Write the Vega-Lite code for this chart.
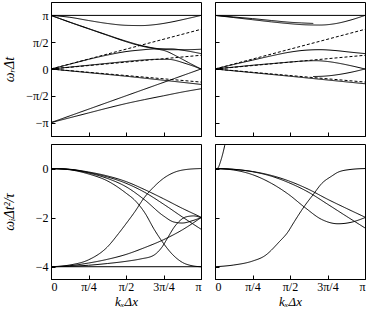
{
"$schema": "https://vega.github.io/schema/vega-lite/v6.json",
"background": "white",
"padding": {"left": 1, "top": 1, "right": 4, "bottom": 0},
"config": {
  "view": {"stroke": "black", "strokeWidth": 1},
  "axis": {"labelFont": "Liberation Serif", "titleFont": "Liberation Serif", "labelFontSize": 12, "titleFontSize": 14, "titleFontWeight": "normal", "tickColor": "black", "domainColor": "black", "labelColor": "black", "titleColor": "black", "grid": false, "tickSize": -4, "labelPadding": 7}
},
"data": {"values": [
{"p":"tl","c":"A","d":"s","k":0,"w":1},{"p":"tl","c":"A","d":"s","k":1,"w":1},
{"p":"tl","c":"B","d":"s","k":0,"w":1},{"p":"tl","c":"B","d":"s","k":0.125,"w":0.965},{"p":"tl","c":"B","d":"s","k":0.25,"w":0.905},{"p":"tl","c":"B","d":"s","k":0.375,"w":0.85},{"p":"tl","c":"B","d":"s","k":0.5,"w":0.815},{"p":"tl","c":"B","d":"s","k":0.6,"w":0.81},{"p":"tl","c":"B","d":"s","k":0.7,"w":0.83},{"p":"tl","c":"B","d":"s","k":0.8,"w":0.875},{"p":"tl","c":"B","d":"s","k":0.9,"w":0.935},{"p":"tl","c":"B","d":"s","k":1,"w":1},
{"p":"tl","c":"C","d":"s","k":0,"w":1},{"p":"tl","c":"C","d":"s","k":0.125,"w":0.875},{"p":"tl","c":"C","d":"s","k":0.25,"w":0.755},{"p":"tl","c":"C","d":"s","k":0.375,"w":0.635},{"p":"tl","c":"C","d":"s","k":0.5,"w":0.52},{"p":"tl","c":"C","d":"s","k":0.6,"w":0.44},{"p":"tl","c":"C","d":"s","k":0.7,"w":0.385},{"p":"tl","c":"C","d":"s","k":0.8,"w":0.36},{"p":"tl","c":"C","d":"s","k":0.9,"w":0.36},{"p":"tl","c":"C","d":"s","k":1,"w":0.369},
{"p":"tl","c":"C2","d":"s","k":0,"w":1},{"p":"tl","c":"C2","d":"s","k":0.125,"w":0.872},{"p":"tl","c":"C2","d":"s","k":0.25,"w":0.75},{"p":"tl","c":"C2","d":"s","k":0.375,"w":0.63},{"p":"tl","c":"C2","d":"s","k":0.5,"w":0.51},{"p":"tl","c":"C2","d":"s","k":0.6,"w":0.43},{"p":"tl","c":"C2","d":"s","k":0.7,"w":0.375},{"p":"tl","c":"C2","d":"s","k":0.76,"w":0.34},{"p":"tl","c":"C2","d":"s","k":0.85,"w":0.22},{"p":"tl","c":"C2","d":"s","k":0.93,"w":0.1},{"p":"tl","c":"C2","d":"s","k":1,"w":0},
{"p":"tl","c":"D1","d":"d","k":0,"w":0},{"p":"tl","c":"D1","d":"d","k":1,"w":0.74},
{"p":"tl","c":"D2","d":"s","k":0,"w":0},{"p":"tl","c":"D2","d":"s","k":0.125,"w":0.09},{"p":"tl","c":"D2","d":"s","k":0.25,"w":0.18},{"p":"tl","c":"D2","d":"s","k":0.375,"w":0.26},{"p":"tl","c":"D2","d":"s","k":0.5,"w":0.325},{"p":"tl","c":"D2","d":"s","k":0.6,"w":0.355},{"p":"tl","c":"D2","d":"s","k":0.7,"w":0.375},{"p":"tl","c":"D2","d":"s","k":0.8,"w":0.375},{"p":"tl","c":"D2","d":"s","k":0.9,"w":0.34},{"p":"tl","c":"D2","d":"s","k":1,"w":0.2875},
{"p":"tl","c":"D3","d":"s","k":0,"w":0},{"p":"tl","c":"D3","d":"s","k":0.125,"w":0.035},{"p":"tl","c":"D3","d":"s","k":0.25,"w":0.07},{"p":"tl","c":"D3","d":"s","k":0.375,"w":0.105},{"p":"tl","c":"D3","d":"s","k":0.5,"w":0.14},{"p":"tl","c":"D3","d":"s","k":0.6,"w":0.165},{"p":"tl","c":"D3","d":"s","k":0.7,"w":0.18},{"p":"tl","c":"D3","d":"s","k":0.78,"w":0.18},{"p":"tl","c":"D3","d":"s","k":0.9,"w":0.1},{"p":"tl","c":"D3","d":"s","k":1,"w":0},
{"p":"tl","c":"D4","d":"d","k":0,"w":0},{"p":"tl","c":"D4","d":"d","k":1,"w":0.256},
{"p":"tl","c":"D5","d":"s","k":0,"w":0},{"p":"tl","c":"D5","d":"s","k":0.25,"w":-0.068},{"p":"tl","c":"D5","d":"s","k":0.5,"w":-0.135},{"p":"tl","c":"D5","d":"s","k":0.75,"w":-0.21},{"p":"tl","c":"D5","d":"s","k":1,"w":-0.2875},
{"p":"tl","c":"D6","d":"d","k":0,"w":0},{"p":"tl","c":"D6","d":"d","k":1,"w":-0.244},
{"p":"tl","c":"E1","d":"s","k":0,"w":-1},{"p":"tl","c":"E1","d":"s","k":1,"w":0},
{"p":"tl","c":"E2","d":"s","k":0,"w":-1},{"p":"tl","c":"E2","d":"s","k":0.125,"w":-0.91},{"p":"tl","c":"E2","d":"s","k":0.25,"w":-0.82},{"p":"tl","c":"E2","d":"s","k":0.375,"w":-0.73},{"p":"tl","c":"E2","d":"s","k":0.5,"w":-0.645},{"p":"tl","c":"E2","d":"s","k":0.625,"w":-0.57},{"p":"tl","c":"E2","d":"s","k":0.75,"w":-0.5},{"p":"tl","c":"E2","d":"s","k":0.875,"w":-0.43},{"p":"tl","c":"E2","d":"s","k":1,"w":-0.369},

{"p":"tr","c":"A","d":"s","k":0,"w":1},{"p":"tr","c":"A","d":"s","k":1,"w":1},
{"p":"tr","c":"B","d":"s","k":0,"w":1},{"p":"tr","c":"B","d":"s","k":0.125,"w":0.97},{"p":"tr","c":"B","d":"s","k":0.25,"w":0.94},{"p":"tr","c":"B","d":"s","k":0.375,"w":0.905},{"p":"tr","c":"B","d":"s","k":0.5,"w":0.872},{"p":"tr","c":"B","d":"s","k":0.575,"w":0.86},{"p":"tr","c":"B","d":"s","k":0.655,"w":0.85},
{"p":"tr","c":"B2","d":"s","k":0,"w":1},{"p":"tr","c":"B2","d":"s","k":0.125,"w":0.96},{"p":"tr","c":"B2","d":"s","k":0.25,"w":0.92},{"p":"tr","c":"B2","d":"s","k":0.375,"w":0.88},{"p":"tr","c":"B2","d":"s","k":0.5,"w":0.845},{"p":"tr","c":"B2","d":"s","k":0.6,"w":0.825},{"p":"tr","c":"B2","d":"s","k":0.7,"w":0.82},{"p":"tr","c":"B2","d":"s","k":0.8,"w":0.845},{"p":"tr","c":"B2","d":"s","k":0.9,"w":0.91},{"p":"tr","c":"B2","d":"s","k":1,"w":1},
{"p":"tr","c":"D1","d":"d","k":0,"w":0},{"p":"tr","c":"D1","d":"d","k":1,"w":0.74},
{"p":"tr","c":"D2","d":"s","k":0,"w":0},{"p":"tr","c":"D2","d":"s","k":0.125,"w":0.085},{"p":"tr","c":"D2","d":"s","k":0.25,"w":0.165},{"p":"tr","c":"D2","d":"s","k":0.375,"w":0.245},{"p":"tr","c":"D2","d":"s","k":0.5,"w":0.315},{"p":"tr","c":"D2","d":"s","k":0.6,"w":0.35},{"p":"tr","c":"D2","d":"s","k":0.7,"w":0.36},{"p":"tr","c":"D2","d":"s","k":0.8,"w":0.345},{"p":"tr","c":"D2","d":"s","k":0.9,"w":0.315},{"p":"tr","c":"D2","d":"s","k":1,"w":0.2875},
{"p":"tr","c":"D3","d":"s","k":0,"w":0},{"p":"tr","c":"D3","d":"s","k":0.125,"w":0.035},{"p":"tr","c":"D3","d":"s","k":0.25,"w":0.07},{"p":"tr","c":"D3","d":"s","k":0.375,"w":0.1},{"p":"tr","c":"D3","d":"s","k":0.5,"w":0.13},{"p":"tr","c":"D3","d":"s","k":0.6,"w":0.15},{"p":"tr","c":"D3","d":"s","k":0.67,"w":0.155},{"p":"tr","c":"D3","d":"s","k":0.75,"w":0.14},{"p":"tr","c":"D3","d":"s","k":0.82,"w":0.11},{"p":"tr","c":"D3","d":"s","k":0.9,"w":0.065},{"p":"tr","c":"D3","d":"s","k":1,"w":0},
{"p":"tr","c":"D4","d":"d","k":0,"w":0},{"p":"tr","c":"D4","d":"d","k":1,"w":0.256},
{"p":"tr","c":"D5","d":"s","k":0,"w":0},{"p":"tr","c":"D5","d":"s","k":0.25,"w":-0.068},{"p":"tr","c":"D5","d":"s","k":0.5,"w":-0.135},{"p":"tr","c":"D5","d":"s","k":0.75,"w":-0.205},{"p":"tr","c":"D5","d":"s","k":1,"w":-0.275},
{"p":"tr","c":"D6","d":"d","k":0,"w":0},{"p":"tr","c":"D6","d":"d","k":1,"w":-0.244},
{"p":"tr","c":"F","d":"s","k":0.655,"w":-0.14},{"p":"tr","c":"F","d":"s","k":0.72,"w":-0.135},{"p":"tr","c":"F","d":"s","k":0.82,"w":-0.105},{"p":"tr","c":"F","d":"s","k":0.9,"w":-0.065},{"p":"tr","c":"F","d":"s","k":1,"w":0},

{"p":"bl","c":"a","d":"s","k":0,"w":0},{"p":"bl","c":"a","d":"s","k":0.125,"w":-0.03},{"p":"bl","c":"a","d":"s","k":0.25,"w":-0.14},{"p":"bl","c":"a","d":"s","k":0.375,"w":-0.3},{"p":"bl","c":"a","d":"s","k":0.5,"w":-0.53},{"p":"bl","c":"a","d":"s","k":0.625,"w":-0.86},{"p":"bl","c":"a","d":"s","k":0.75,"w":-1.23},{"p":"bl","c":"a","d":"s","k":0.875,"w":-1.62},{"p":"bl","c":"a","d":"s","k":1,"w":-1.98},
{"p":"bl","c":"b","d":"s","k":0,"w":0},{"p":"bl","c":"b","d":"s","k":0.125,"w":-0.035},{"p":"bl","c":"b","d":"s","k":0.25,"w":-0.16},{"p":"bl","c":"b","d":"s","k":0.375,"w":-0.34},{"p":"bl","c":"b","d":"s","k":0.5,"w":-0.6},{"p":"bl","c":"b","d":"s","k":0.625,"w":-0.97},{"p":"bl","c":"b","d":"s","k":0.75,"w":-1.45},{"p":"bl","c":"b","d":"s","k":0.875,"w":-1.97},{"p":"bl","c":"b","d":"s","k":1,"w":-2.47},
{"p":"bl","c":"c","d":"s","k":0,"w":0},{"p":"bl","c":"c","d":"s","k":0.125,"w":-0.04},{"p":"bl","c":"c","d":"s","k":0.25,"w":-0.18},{"p":"bl","c":"c","d":"s","k":0.375,"w":-0.4},{"p":"bl","c":"c","d":"s","k":0.5,"w":-0.74},{"p":"bl","c":"c","d":"s","k":0.625,"w":-1.28},{"p":"bl","c":"c","d":"s","k":0.75,"w":-1.93},{"p":"bl","c":"c","d":"s","k":0.82,"w":-2.18},{"p":"bl","c":"c","d":"s","k":0.875,"w":-2.22},{"p":"bl","c":"c","d":"s","k":0.94,"w":-2.13},{"p":"bl","c":"c","d":"s","k":1,"w":-2.0},
{"p":"bl","c":"d","d":"s","k":0,"w":0},{"p":"bl","c":"d","d":"s","k":0.125,"w":-0.05},{"p":"bl","c":"d","d":"s","k":0.25,"w":-0.22},{"p":"bl","c":"d","d":"s","k":0.375,"w":-0.5},{"p":"bl","c":"d","d":"s","k":0.5,"w":-1.0},{"p":"bl","c":"d","d":"s","k":0.56,"w":-1.3},{"p":"bl","c":"d","d":"s","k":0.625,"w":-1.8},{"p":"bl","c":"d","d":"s","k":0.69,"w":-2.5},{"p":"bl","c":"d","d":"s","k":0.75,"w":-3.05},{"p":"bl","c":"d","d":"s","k":0.81,"w":-3.5},{"p":"bl","c":"d","d":"s","k":0.875,"w":-3.82},{"p":"bl","c":"d","d":"s","k":0.94,"w":-3.96},{"p":"bl","c":"d","d":"s","k":1,"w":-4},
{"p":"bl","c":"e","d":"s","k":0,"w":-4},{"p":"bl","c":"e","d":"s","k":0.125,"w":-3.93},{"p":"bl","c":"e","d":"s","k":0.25,"w":-3.72},{"p":"bl","c":"e","d":"s","k":0.375,"w":-3.2},{"p":"bl","c":"e","d":"s","k":0.45,"w":-2.65},{"p":"bl","c":"e","d":"s","k":0.5,"w":-2.25},{"p":"bl","c":"e","d":"s","k":0.56,"w":-1.75},{"p":"bl","c":"e","d":"s","k":0.62,"w":-1.2},{"p":"bl","c":"e","d":"s","k":0.69,"w":-0.72},{"p":"bl","c":"e","d":"s","k":0.75,"w":-0.4},{"p":"bl","c":"e","d":"s","k":0.82,"w":-0.16},{"p":"bl","c":"e","d":"s","k":0.9,"w":-0.04},{"p":"bl","c":"e","d":"s","k":1,"w":0},
{"p":"bl","c":"f","d":"s","k":0,"w":-4},{"p":"bl","c":"f","d":"s","k":0.125,"w":-3.96},{"p":"bl","c":"f","d":"s","k":0.25,"w":-3.85},{"p":"bl","c":"f","d":"s","k":0.375,"w":-3.7},{"p":"bl","c":"f","d":"s","k":0.5,"w":-3.5},{"p":"bl","c":"f","d":"s","k":0.625,"w":-3.22},{"p":"bl","c":"f","d":"s","k":0.75,"w":-2.9},{"p":"bl","c":"f","d":"s","k":0.875,"w":-2.5},{"p":"bl","c":"f","d":"s","k":1,"w":-2.0},
{"p":"bl","c":"g","d":"s","k":0,"w":-4},{"p":"bl","c":"g","d":"s","k":0.125,"w":-3.98},{"p":"bl","c":"g","d":"s","k":0.25,"w":-3.94},{"p":"bl","c":"g","d":"s","k":0.375,"w":-3.87},{"p":"bl","c":"g","d":"s","k":0.5,"w":-3.78},{"p":"bl","c":"g","d":"s","k":0.6,"w":-3.68},{"p":"bl","c":"g","d":"s","k":0.68,"w":-3.55},{"p":"bl","c":"g","d":"s","k":0.74,"w":-3.2},{"p":"bl","c":"g","d":"s","k":0.78,"w":-2.8},{"p":"bl","c":"g","d":"s","k":0.82,"w":-2.4},{"p":"bl","c":"g","d":"s","k":0.86,"w":-2.12},{"p":"bl","c":"g","d":"s","k":0.9,"w":-1.97},{"p":"bl","c":"g","d":"s","k":0.95,"w":-1.93},{"p":"bl","c":"g","d":"s","k":1,"w":-2.0},
{"p":"bl","c":"h","d":"s","k":0,"w":-4},{"p":"bl","c":"h","d":"s","k":1,"w":-4},

{"p":"br","c":"G","d":"s","k":0.015,"w":0},{"p":"br","c":"G","d":"s","k":0.025,"w":0.08},{"p":"br","c":"G","d":"s","k":0.035,"w":0.25},{"p":"br","c":"G","d":"s","k":0.045,"w":0.45},{"p":"br","c":"G","d":"s","k":0.055,"w":0.68},{"p":"br","c":"G","d":"s","k":0.065,"w":0.95},{"p":"br","c":"G","d":"s","k":0.07,"w":1.1},
{"p":"br","c":"a","d":"s","k":0,"w":0},{"p":"br","c":"a","d":"s","k":0.125,"w":-0.03},{"p":"br","c":"a","d":"s","k":0.25,"w":-0.12},{"p":"br","c":"a","d":"s","k":0.375,"w":-0.28},{"p":"br","c":"a","d":"s","k":0.49,"w":-0.5},{"p":"br","c":"a","d":"s","k":0.625,"w":-0.85},{"p":"br","c":"a","d":"s","k":0.75,"w":-1.25},{"p":"br","c":"a","d":"s","k":0.875,"w":-1.62},{"p":"br","c":"a","d":"s","k":1,"w":-1.98},
{"p":"br","c":"b","d":"s","k":0,"w":0},{"p":"br","c":"b","d":"s","k":0.125,"w":-0.035},{"p":"br","c":"b","d":"s","k":0.25,"w":-0.13},{"p":"br","c":"b","d":"s","k":0.375,"w":-0.31},{"p":"br","c":"b","d":"s","k":0.49,"w":-0.57},{"p":"br","c":"b","d":"s","k":0.625,"w":-0.97},{"p":"br","c":"b","d":"s","k":0.75,"w":-1.45},{"p":"br","c":"b","d":"s","k":0.875,"w":-1.94},{"p":"br","c":"b","d":"s","k":1,"w":-2.42},
{"p":"br","c":"c","d":"s","k":0,"w":0},{"p":"br","c":"c","d":"s","k":0.125,"w":-0.06},{"p":"br","c":"c","d":"s","k":0.25,"w":-0.25},{"p":"br","c":"c","d":"s","k":0.375,"w":-0.6},{"p":"br","c":"c","d":"s","k":0.49,"w":-1.05},{"p":"br","c":"c","d":"s","k":0.6,"w":-1.59},{"p":"br","c":"c","d":"s","k":0.71,"w":-2.07},{"p":"br","c":"c","d":"s","k":0.82,"w":-2.25},{"p":"br","c":"c","d":"s","k":0.9,"w":-2.2},{"p":"br","c":"c","d":"s","k":1,"w":-2.0},
{"p":"br","c":"e","d":"s","k":0,"w":-4},{"p":"br","c":"e","d":"s","k":0.125,"w":-3.93},{"p":"br","c":"e","d":"s","k":0.25,"w":-3.77},{"p":"br","c":"e","d":"s","k":0.333,"w":-3.55},{"p":"br","c":"e","d":"s","k":0.426,"w":-3.0},{"p":"br","c":"e","d":"s","k":0.49,"w":-2.55},{"p":"br","c":"e","d":"s","k":0.515,"w":-2.3},{"p":"br","c":"e","d":"s","k":0.6,"w":-1.5},{"p":"br","c":"e","d":"s","k":0.656,"w":-1.05},{"p":"br","c":"e","d":"s","k":0.71,"w":-0.62},{"p":"br","c":"e","d":"s","k":0.78,"w":-0.3},{"p":"br","c":"e","d":"s","k":0.82,"w":-0.15},{"p":"br","c":"e","d":"s","k":0.9,"w":-0.04},{"p":"br","c":"e","d":"s","k":1,"w":0}
]},
"columns": 2,
"spacing": {"row": 6, "column": 12},
"concat": [
 {"width": 150, "height": 134, "transform": [{"filter": "datum.p=='tl'"}],
  "mark": {"type": "line", "color": "black", "strokeWidth": 1, "clip": true, "interpolate": "monotone"},
  "encoding": {
   "x": {"field": "k", "type": "quantitative", "scale": {"domain": [0, 1], "nice": false}, "axis": {"values": [0, 0.25, 0.5, 0.75, 1], "labels": false, "title": null}},
   "y": {"field": "w", "type": "quantitative", "scale": {"domain": [-1.25, 1.25], "nice": false}, "axis": {"values": [-1, -0.5, 0, 0.5, 1], "labelExpr": "datum.value==1?'π':datum.value==0.5?'π/2':datum.value==0?'0':datum.value==-0.5?'−π/2':'−π'", "title": "ωᵣΔt", "titleFontStyle": "italic", "minExtent": 30, "maxExtent": 30, "titlePadding": 5}},
   "detail": {"field": "c"},
   "strokeDash": {"field": "d", "type": "nominal", "scale": {"domain": ["s", "d"], "range": [[1, 0], [3, 2]]}, "legend": null}
  }},
 {"width": 150, "height": 134, "transform": [{"filter": "datum.p=='tr'"}],
  "mark": {"type": "line", "color": "black", "strokeWidth": 1, "clip": true, "interpolate": "monotone"},
  "encoding": {
   "x": {"field": "k", "type": "quantitative", "scale": {"domain": [0, 1], "nice": false}, "axis": {"values": [0, 0.25, 0.5, 0.75, 1], "labels": false, "title": null}},
   "y": {"field": "w", "type": "quantitative", "scale": {"domain": [-1.25, 1.25], "nice": false}, "axis": {"values": [-1, -0.5, 0, 0.5, 1], "labels": false, "title": null}},
   "detail": {"field": "c"},
   "strokeDash": {"field": "d", "type": "nominal", "scale": {"domain": ["s", "d"], "range": [[1, 0], [3, 2]]}, "legend": null}
  }},
 {"width": 150, "height": 135, "transform": [{"filter": "datum.p=='bl'"}],
  "mark": {"type": "line", "color": "black", "strokeWidth": 1, "clip": true, "interpolate": "monotone"},
  "encoding": {
   "x": {"field": "k", "type": "quantitative", "scale": {"domain": [0, 1], "nice": false}, "axis": {"values": [0, 0.25, 0.5, 0.75, 1], "labelExpr": "datum.value==0?'0':datum.value==0.25?'π/4':datum.value==0.5?'π/2':datum.value==0.75?'3π/4':'π'", "labelPadding": 6, "title": "kₓΔx", "titleFontStyle": "italic", "titleFontSize": 13, "titlePadding": 3}},
   "y": {"field": "w", "type": "quantitative", "scale": {"domain": [-4.5, 1], "nice": false}, "axis": {"values": [-4, -2, 0], "title": "ωᵢΔt²/τ", "titleFontStyle": "italic", "minExtent": 30, "maxExtent": 30, "titlePadding": 5}},
   "detail": {"field": "c"},
   "strokeDash": {"field": "d", "type": "nominal", "scale": {"domain": ["s", "d"], "range": [[1, 0], [3, 2]]}, "legend": null}
  }},
 {"width": 150, "height": 135, "transform": [{"filter": "datum.p=='br'"}],
  "mark": {"type": "line", "color": "black", "strokeWidth": 1, "clip": true, "interpolate": "monotone"},
  "encoding": {
   "x": {"field": "k", "type": "quantitative", "scale": {"domain": [0, 1], "nice": false}, "axis": {"values": [0, 0.25, 0.5, 0.75, 1], "labelExpr": "datum.value==0?'0':datum.value==0.25?'π/4':datum.value==0.5?'π/2':datum.value==0.75?'3π/4':'π'", "labelPadding": 6, "title": "kₓΔx", "titleFontStyle": "italic", "titleFontSize": 13, "titlePadding": 3}},
   "y": {"field": "w", "type": "quantitative", "scale": {"domain": [-4.5, 1], "nice": false}, "axis": {"values": [-4, -2, 0], "labels": false, "title": null}},
   "detail": {"field": "c"},
   "strokeDash": {"field": "d", "type": "nominal", "scale": {"domain": ["s", "d"], "range": [[1, 0], [3, 2]]}, "legend": null}
  }}
]
}
